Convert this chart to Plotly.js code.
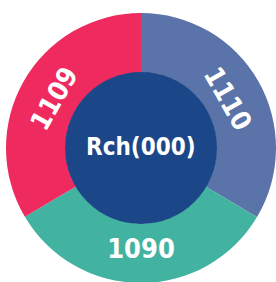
<!DOCTYPE html>
<html>
<head>
<meta charset="utf-8">
<script src="https://cdn.plot.ly/plotly-3.0.1.min.js"></script>
<style>
html,body{margin:0;padding:0;overflow:hidden;background:#fff;}
#chart{position:absolute;left:0;top:0;}
</style>
</head>
<body>
<div id="chart"></div>
<script>
const labels = ["A", "B", "C"];
const values = [1110, 1090, 1109];
const colors = ["#5a73a8", "#42b3a0", "#ee2a5e"];
const centerLabel = "Rch(000)";

const W = 290, H = 300;
const fontFam = "'DejaVu Sans Condensed', 'DejaVu Sans', sans-serif";

const outer = {
  type: "pie",
  labels: labels,
  values: values,
  text: values.map(String),
  textinfo: "text",
  textposition: "inside",
  insidetextorientation: "tangential",
  sort: false,
  direction: "clockwise",
  rotation: 0,
  hole: 0.56,
  marker: {colors: colors, line: {width: 0}},
  textfont: {color: "#ffffff", size: 27, family: fontFam, weight: "bold"},
  domain: {x: [6 / W, 276 / W], y: [(H - 283) / H, (H - 13) / H]},
  showlegend: false,
  hoverinfo: "none"
};

const inner = {
  type: "pie",
  labels: ["center"],
  values: [1],
  textinfo: "none",
  sort: false,
  marker: {colors: ["#1b4788"], line: {width: 0}},
  domain: {x: [65 / W, 217 / W], y: [(H - 224) / H, (H - 72) / H]},
  showlegend: false,
  hoverinfo: "none"
};

const layout = {
  width: W,
  height: H,
  margin: {l: 0, r: 0, t: 0, b: 0},
  paper_bgcolor: "#ffffff",
  plot_bgcolor: "#ffffff",
  showlegend: false,
  annotations: [{
    text: centerLabel,
    x: 141 / W, y: (H - 147) / H,
    xref: "paper", yref: "paper",
    xanchor: "center", yanchor: "middle",
    showarrow: false,
    font: {color: "#ffffff", size: 24, family: fontFam, weight: "bold"}
  }]
};

Plotly.newPlot("chart", [outer, inner], layout, {displayModeBar: false, staticPlot: true});
</script>
</body>
</html>
